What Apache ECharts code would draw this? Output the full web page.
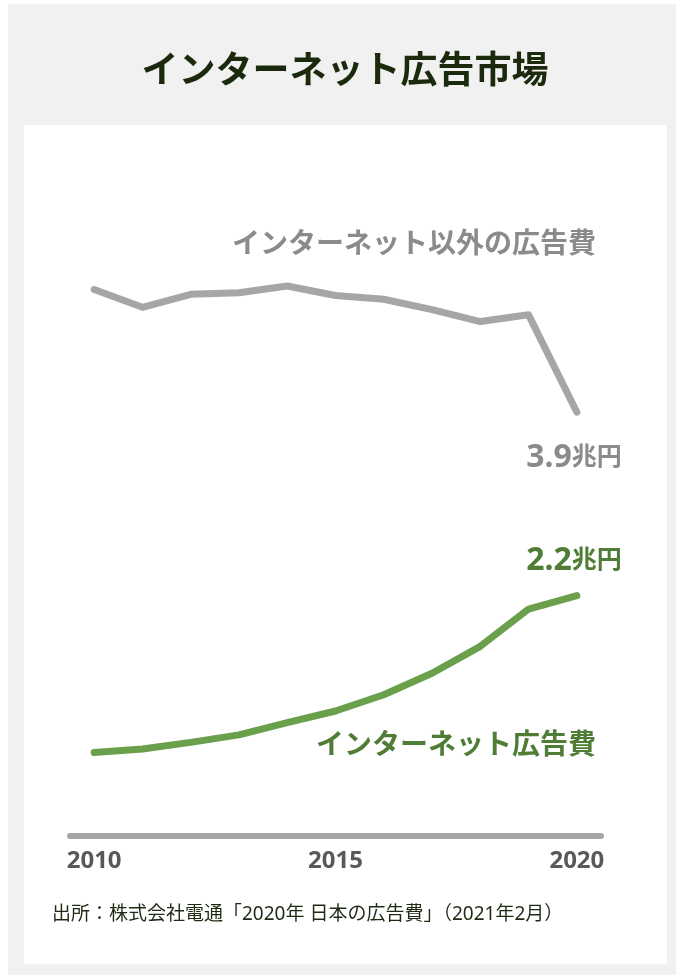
<!DOCTYPE html>
<html>
<head>
<meta charset="utf-8">
<script src="https://cdn.jsdelivr.net/npm/echarts@6/dist/echarts.min.js"></script>
<style>
  html, body { margin: 0; padding: 0; background: #ffffff; }
  #chart { width: 676px; height: 975px; }
</style>
</head>
<body>
<div id="chart"></div>
<script>
// 日本の広告費（兆円）
const years = ['2010', '2011', '2012', '2013', '2014', '2015', '2016', '2017', '2018', '2019', '2020'];
const internetAd = [0.775, 0.806, 0.868, 0.938, 1.052, 1.159, 1.310, 1.509, 1.759, 2.105, 2.229];
const otherAd = [5.068, 4.903, 5.023, 5.038, 5.100, 5.012, 4.978, 4.881, 4.771, 4.833, 3.930];
const shownYears = ['2010', '2015', '2020'];

const titleText = 'インターネット広告市場';
const otherName = 'インターネット以外の広告費';
const internetName = 'インターネット広告費';
const sourceText = '出所：株式会社電通「2020年 日本の広告費」（2021年2月）';

const FONT = "'Noto Sans', 'Noto Sans CJK JP', sans-serif";
const GRAY_LINE = '#a6a6a6';
const GRAY_TEXT = '#8b8b8b';
const GREEN_LINE = '#6a9f4b';
const GREEN_TEXT = '#4f7d36';

const chart = echarts.init(document.getElementById('chart'), null, { renderer: 'canvas' });

// Value at the end of each line, e.g. "3.9兆円"
function valueLabel(color) {
  return {
    show: true,
    distance: 0,
    align: 'right',
    verticalAlign: 'middle',
    formatter: p => '{n|' + Number(p.value).toFixed(1) + '}{u|兆円}',
    rich: {
      n: { fontFamily: FONT, fontSize: 32, fontWeight: 'bold', color: color, lineHeight: 36 },
      u: { fontFamily: FONT, fontSize: 25, fontWeight: 'bold', color: color, lineHeight: 32 }
    }
  };
}

chart.setOption({
  animation: false,
  backgroundColor: '#ffffff',
  graphic: [
    { type: 'rect', z: -10, silent: true, shape: { x: 8, y: 4, width: 668, height: 971 }, style: { fill: '#f1f1f1' } },
    { type: 'rect', z: -9, silent: true, shape: { x: 24, y: 125, width: 643, height: 839 }, style: { fill: '#ffffff' } },
    { type: 'text', x: 345, y: 72, style: { text: titleText, fontFamily: FONT, fontSize: 37, fontWeight: 'bold', fill: '#1b2a0c', align: 'center', verticalAlign: 'middle' } },
    { type: 'text', x: 596, y: 245, style: { text: otherName, fontFamily: FONT, fontSize: 28, fontWeight: 'bold', fill: GRAY_TEXT, align: 'right', verticalAlign: 'middle' } },
    { type: 'text', x: 596, y: 746, style: { text: internetName, fontFamily: FONT, fontSize: 28, fontWeight: 'bold', fill: GREEN_TEXT, align: 'right', verticalAlign: 'middle' } },
    { type: 'text', x: 52, y: 915, style: { text: sourceText, fontFamily: FONT, fontSize: 19, fill: '#1f2a14', align: 'left', verticalAlign: 'middle' } }
  ],
  grid: { left: 70, width: 531, top: 189, height: 647, containLabel: false },
  xAxis: {
    type: 'category',
    data: years,
    boundaryGap: true,
    axisLine: { show: true, lineStyle: { color: GRAY_LINE, width: 6 } },
    axisTick: { show: false },
    axisLabel: {
      interval: 0,
      formatter: v => (shownYears.includes(v) ? v : ''),
      fontFamily: FONT,
      fontSize: 24,
      fontWeight: 'bold',
      color: '#595959',
      margin: 13
    },
    splitLine: { show: false }
  },
  yAxis: {
    type: 'value',
    min: 0,
    max: 6,
    show: false,
    splitLine: { show: false }
  },
  series: [
    {
      name: otherName,
      type: 'line',
      data: otherAd,
      symbol: 'none',
      lineStyle: { color: GRAY_LINE, width: 7, cap: 'round', join: 'round' },
      endLabel: Object.assign(valueLabel(GRAY_TEXT), { offset: [45, 46] })
    },
    {
      name: internetName,
      type: 'line',
      data: internetAd,
      symbol: 'none',
      lineStyle: { color: GREEN_LINE, width: 7, cap: 'round', join: 'round' },
      endLabel: Object.assign(valueLabel(GREEN_TEXT), { offset: [45, -35] })
    }
  ]
});
</script>
</body>
</html>
